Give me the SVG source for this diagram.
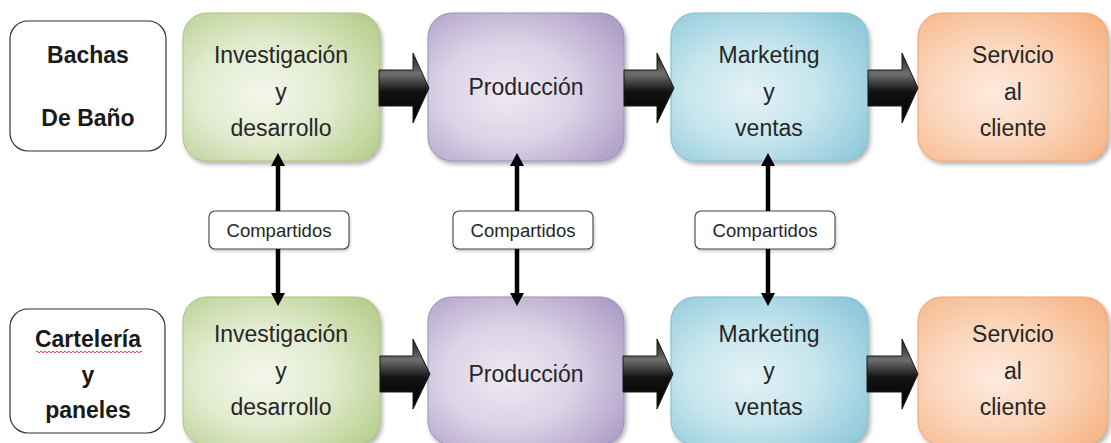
<svg xmlns="http://www.w3.org/2000/svg" width="1111" height="443" viewBox="0 0 1111 443">
<style>
.t{font-family:"Liberation Sans",Arial,sans-serif;font-size:23px;fill:#262626;text-anchor:middle}
.b{font-family:"Liberation Sans",Arial,sans-serif;font-size:23px;font-weight:bold;fill:#1a1a1a;text-anchor:middle}
.c{font-family:"Liberation Sans",Arial,sans-serif;font-size:18.5px;fill:#262626;text-anchor:middle}
.plain{fill:#fff;stroke:#333;stroke-width:1.2}
.share{fill:#fff;stroke:#444;stroke-width:1.1}
.fat{fill:url(#gArrow);stroke:#1a1a1a;stroke-width:1}
.dbl{stroke:#000;stroke-width:4.5;fill:none}
.head{fill:#000}
</style>
<defs>
<filter id="sh" x="-10%" y="-10%" width="125%" height="130%">
<feDropShadow dx="2" dy="3" stdDeviation="2" flood-color="#000" flood-opacity="0.3"/>
</filter>
<filter id="sh2" x="-10%" y="-10%" width="125%" height="140%">
<feDropShadow dx="1" dy="2" stdDeviation="1.5" flood-color="#000" flood-opacity="0.2"/>
</filter>
<linearGradient id="gArrow" x1="0" y1="0" x2="0" y2="1">
<stop offset="0" stop-color="#1e1e1e"/>
<stop offset="0.3" stop-color="#6e6e6e"/>
<stop offset="0.55" stop-color="#121212"/>
<stop offset="1" stop-color="#000"/>
</linearGradient>
<radialGradient id="gGreen" cx="0.42" cy="0.52" r="0.75" fx="0.4" fy="0.55">
<stop offset="0" stop-color="#f3f7ea"/>
<stop offset="0.45" stop-color="#e2ebd0"/>
<stop offset="1" stop-color="#b3cb86"/>
</radialGradient>
<radialGradient id="gPurple" cx="0.42" cy="0.52" r="0.75" fx="0.4" fy="0.55">
<stop offset="0" stop-color="#eee9f3"/>
<stop offset="0.45" stop-color="#dcd3e7"/>
<stop offset="1" stop-color="#a898c2"/>
</radialGradient>
<radialGradient id="gBlue" cx="0.42" cy="0.52" r="0.75" fx="0.4" fy="0.55">
<stop offset="0" stop-color="#e3f2f6"/>
<stop offset="0.45" stop-color="#c6e5ed"/>
<stop offset="1" stop-color="#87c5d8"/>
</radialGradient>
<radialGradient id="gOrange" cx="0.42" cy="0.52" r="0.75" fx="0.4" fy="0.55">
<stop offset="0" stop-color="#fdebde"/>
<stop offset="0.45" stop-color="#fbd6bc"/>
<stop offset="1" stop-color="#f6b07f"/>
</radialGradient>
</defs>

<rect width="1111" height="443" fill="#fff"/>

<!-- Top row -->
<g id="bachas">
<rect class="plain" x="10" y="21" width="156" height="130" rx="18"/>
<text class="b" x="88" y="63">Bachas</text>
<text class="b" x="88" y="126">De Baño</text>
</g>
<g id="id-top">
<rect x="183" y="13" width="197" height="148" rx="24" fill="url(#gGreen)" stroke="#a9c37c" stroke-width="1" filter="url(#sh)"/>
<text class="t" x="281" y="63">Investigación</text>
<text class="t" x="281" y="100">y</text>
<text class="t" x="281" y="136">desarrollo</text>
</g>
<g id="prod-top">
<rect x="428" y="13" width="196" height="148" rx="24" fill="url(#gPurple)" stroke="#9d8cb8" stroke-width="1" filter="url(#sh)"/>
<text class="t" x="526" y="95">Producción</text>
</g>
<g id="mkt-top">
<rect x="671" y="13" width="197" height="148" rx="24" fill="url(#gBlue)" stroke="#7cbccf" stroke-width="1" filter="url(#sh)"/>
<text class="t" x="769" y="63">Marketing</text>
<text class="t" x="769" y="100">y</text>
<text class="t" x="769" y="136">ventas</text>
</g>
<g id="serv-top">
<rect x="918" y="13" width="190" height="148" rx="24" fill="url(#gOrange)" stroke="#efa673" stroke-width="1" filter="url(#sh)"/>
<text class="t" x="1013" y="63">Servicio</text>
<text class="t" x="1013" y="100">al</text>
<text class="t" x="1013" y="136">cliente</text>
</g>

<!-- Bottom row -->
<g id="carteleria">
<rect class="plain" x="10" y="309" width="155" height="124" rx="18"/>
<text class="b" x="88" y="347">Cartelería</text>
<path d="M36,352 q1,-1.6 2,0 t2,0 t2,0 t2,0 t2,0 t2,0 t2,0 t2,0 t2,0 t2,0 t2,0 t2,0 t2,0 t2,0 t2,0 t2,0 t2,0 t2,0 t2,0 t2,0 t2,0 t2,0 t2,0 t2,0 t2,0 t2,0 t2,0 t2,0 t2,0 t2,0 t2,0 t2,0 t2,0 t2,0 t2,0 t2,0 t2,0 t2,0 t2,0 t2,0 t2,0 t2,0 t2,0 t2,0 t2,0 t2,0 t2,0 t2,0 t2,0 t2,0 t2,0 t2,0 t2,0" fill="none" stroke="#d03030" stroke-width="0.9"/>
<text class="b" x="88" y="383">y</text>
<text class="b" x="88" y="418">paneles</text>
</g>
<g id="id-bot">
<rect x="183" y="297" width="197" height="148" rx="24" fill="url(#gGreen)" stroke="#a9c37c" stroke-width="1" filter="url(#sh)"/>
<text class="t" x="281" y="342">Investigación</text>
<text class="t" x="281" y="379">y</text>
<text class="t" x="281" y="415">desarrollo</text>
</g>
<g id="prod-bot">
<rect x="428" y="297" width="196" height="148" rx="24" fill="url(#gPurple)" stroke="#9d8cb8" stroke-width="1" filter="url(#sh)"/>
<text class="t" x="526" y="382">Producción</text>
</g>
<g id="mkt-bot">
<rect x="671" y="297" width="197" height="148" rx="24" fill="url(#gBlue)" stroke="#7cbccf" stroke-width="1" filter="url(#sh)"/>
<text class="t" x="769" y="342">Marketing</text>
<text class="t" x="769" y="379">y</text>
<text class="t" x="769" y="415">ventas</text>
</g>
<g id="serv-bot">
<rect x="918" y="297" width="190" height="148" rx="24" fill="url(#gOrange)" stroke="#efa673" stroke-width="1" filter="url(#sh)"/>
<text class="t" x="1013" y="342">Servicio</text>
<text class="t" x="1013" y="379">al</text>
<text class="t" x="1013" y="415">cliente</text>
</g>

<!-- Shared labels -->
<g id="shared-1">
<rect class="share" x="209" y="211" width="140" height="38" rx="6" filter="url(#sh2)"/>
<text class="c" x="279" y="237">Compartidos</text>
</g>
<g id="shared-2">
<rect class="share" x="453" y="211" width="140" height="38" rx="6" filter="url(#sh2)"/>
<text class="c" x="523" y="237">Compartidos</text>
</g>
<g id="shared-3">
<rect class="share" x="695" y="211" width="140" height="38" rx="6" filter="url(#sh2)"/>
<text class="c" x="765" y="237">Compartidos</text>
</g>

<!-- Connectors -->
<g id="connectors">
<polygon class="fat" points="379,70 413,70 413,53 429,88 413,123 413,106 379,106"/>
<polygon class="fat" points="624,70 657,70 657,53 674,88 657,123 657,106 624,106"/>
<polygon class="fat" points="868,70 902,70 902,53 918,88 902,123 902,106 868,106"/>
<polygon class="fat" points="380,356 413,356 413,339 430,374 413,409 413,392 380,392"/>
<polygon class="fat" points="623,356 657,356 657,339 673,374 657,409 657,392 623,392"/>
<polygon class="fat" points="867,356 902,356 902,339 918,374 902,409 902,392 867,392"/>

<line class="dbl" x1="278" y1="164" x2="278" y2="211"/>
<polygon class="head" points="278,153 285,166 271,166"/>
<line class="dbl" x1="278" y1="249" x2="278" y2="295"/>
<polygon class="head" points="278,306 285,293 271,293"/>

<line class="dbl" x1="517" y1="164" x2="517" y2="211"/>
<polygon class="head" points="517,153 524,166 510,166"/>
<line class="dbl" x1="517" y1="249" x2="517" y2="295"/>
<polygon class="head" points="517,306 524,293 510,293"/>

<line class="dbl" x1="768" y1="164" x2="768" y2="211"/>
<polygon class="head" points="768,153 775,166 761,166"/>
<line class="dbl" x1="768" y1="249" x2="768" y2="295"/>
<polygon class="head" points="768,306 775,293 761,293"/>
</g>
</svg>
